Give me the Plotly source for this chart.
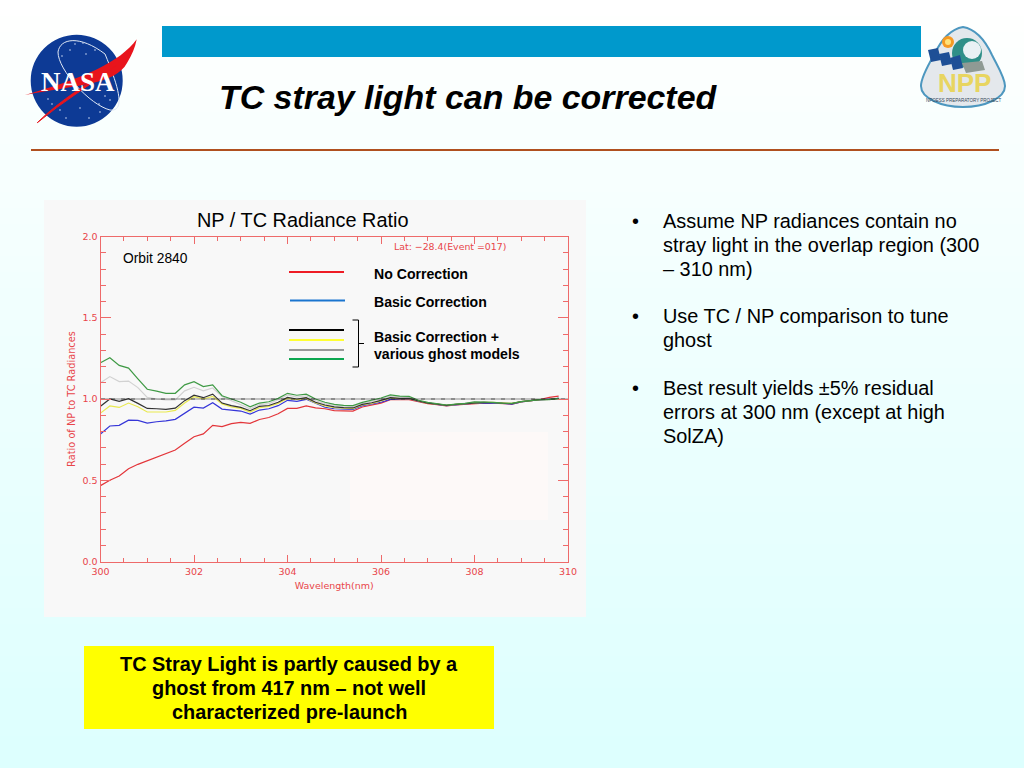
import re
import plotly.graph_objects as go

wavelength = [300.0,300.2,300.4,300.6,300.8,301.0,301.2,301.4,301.6,301.8,
              302.0,302.2,302.4,302.6,302.8,303.0,303.2,303.4,303.6,303.8,
              304.0,304.2,304.4,304.6,304.8,305.0,305.2,305.4,305.6,305.8,
              306.0,306.2,306.4,306.6,306.8,307.0,307.2,307.4,307.6,307.8,
              308.0,308.2,308.4,308.6,308.8,309.0,309.2,309.4,309.6,309.8]
no_correction = [.467,.5,.526,.571,.598,.62,.645,.666,.686,.727,
                 .768,.785,.838,.83,.848,.856,.85,.874,.886,.909,
                 .942,.942,.957,.945,
                 .94,.928,.926,.926,.951,.961,.975,.996,.996,.996,.984,.971,.965,.957,
                 .963,.967,.975,.975,.975,.973,.969,.982,.990,.996,1.010,1.018]
basic_correction = [.785,.834,.838,.87,.868,.852,.86,.865,.875,.913,
                    .95,.944,.977,.938,.934,.926,.907,.932,.94,.959,
                    .992,.985,.998,.973,
                    .949,.94,.938,.936,.959,.969,.98,.998,.998,1.002,.986,.975,.967,.959,
                    .965,.967,.975,.975,.975,.973,.969,.982,.990,.996,1.002,1.004]
ghost_black = [.955,1.0,.985,1.002,.973,.942,.94,.936,.944,.99,
               1.023,1.008,1.03,.975,.959,.948,.928,.955,.96,.98,
               1.01,1.0,1.008,.98,
               .963,.951,.947,.945,.967,.977,.992,1.008,1.004,1.004,.988,.975,.969,.961,
               .967,.971,.979,.979,.977,.973,.971,.984,.992,.996,.998,1.004]
ghost_yellow = [.913,.957,.948,.975,.952,.92,.92,.92,.93,.975,
                1.014,1.0,1.016,.97,.952,.942,.92,.946,.955,.973,
                1.004,.996,1.004,.975,
                .958,.947,.943,.941,.963,.973,.988,1.006,1.002,1.002,.988,.975,.969,.961,
                .967,.971,.979,.979,.979,.975,.973,.984,.992,.996,.998,1.002]
ghost_gray = [1.10,1.138,1.107,1.11,1.07,1.01,1.0,.995,.995,1.05,
              1.072,1.05,1.068,1.015,.99,.965,.94,.965,.972,.995,
              1.025,1.012,1.02,.99,
              .972,.96,.955,.953,.973,.985,1.0,1.018,1.012,1.01,.99,.977,.97,.962,
              .967,.973,.981,.981,.979,.975,.973,.984,.992,.996,.998,1.002]
ghost_green = [1.223,1.254,1.207,1.19,1.124,1.06,1.048,1.035,1.035,1.087,
               1.107,1.076,1.087,1.02,1.0,.98,.952,.975,.983,1.004,
               1.035,1.023,1.03,1.0,
               .98,.967,.961,.959,.979,.992,1.006,1.025,1.018,1.016,.992,.979,.971,.963,
               .969,.973,.982,.982,.979,.975,.973,.984,.992,.996,.996,1.004]
reference_x = [300, 310]
reference_y = [1.0, 1.0]

title_text = "TC stray light can be corrected"
bullets = [["Assume NP radiances contain no", "stray light in the overlap region (300", "– 310 nm)"],
           ["Use TC / NP comparison to tune", "ghost"],
           ["Best result yields ±5% residual", "errors at 300 nm (except at high", "SolZA)"]]
callout = ["TC Stray Light is partly caused by a", "ghost from 417 nm – not well", "characterized pre-launch"]

W, H = 1024, 768
fx = lambda x: x / W
fy = lambda y: 1 - y / H

def P(s):
    toks = re.findall(r"[A-Za-z]|-?[\d.]+", s)
    out, i = [], 0
    for t in toks:
        if t.isalpha():
            out.append(t)
        else:
            out.append(f"{fx(float(t)) if i % 2 == 0 else fy(float(t)):.5f}")
            i += 1
    return " ".join(out)

shapes = []
def rect(x0, y0, x1, y1, color):
    shapes.append(dict(type="rect", xref="paper", yref="paper", x0=fx(x0), x1=fx(x1), y0=fy(y1), y1=fy(y0),
                       fillcolor=color, line=dict(width=0), layer="below"))
def seg(x0, y0, x1, y1, color, w=2):
    shapes.append(dict(type="line", xref="paper", yref="paper", x0=fx(x0), x1=fx(x1), y0=fy(y0), y1=fy(y1),
                       line=dict(color=color, width=w), layer="below"))
def path(d, fill=None, line=None, w=0):
    s = dict(type="path", xref="paper", yref="paper", path=P(d), layer="below", line=dict(width=w))
    if fill: s["fillcolor"] = fill
    if line: s["line"]["color"] = line
    shapes.append(s)
def circle(cx, cy, r, fill, line=None, w=0):
    s = dict(type="circle", xref="paper", yref="paper", x0=fx(cx-r), x1=fx(cx+r), y0=fy(cy+r), y1=fy(cy-r),
             fillcolor=fill, layer="below", line=dict(width=w))
    if line: s["line"]["color"] = line
    shapes.append(s)

# page background gradient
for i in range(48):
    t = i / 47
    rect(0, i*16, W, (i+1)*16, f"rgb({int(255-34*t)},255,{int(255-1*t)})")

rect(162, 26, 921, 57, "#0099cc")
seg(31, 150, 999, 150, "#b0501f", 2)
rect(44, 200, 586, 617, "#f8f8f8")
rect(350, 432, 548, 520, "#fdf9f8")
rect(84, 646, 494, 729, "#ffff00")

# legend keys
for y, c, x0, x1 in [(272, "#ee1c25", 289, 344), (300.5, "#1a75cf", 290, 345), (330, "#000000", 289, 344),
                     (340, "#ffff33", 289, 344), (350, "#999999", 289, 344), (359, "#0ca750", 289, 344)]:
    seg(x0, y, x1, y, c, 2)
path("M 352.5 320 L 358.5 320 L 358.5 367 L 352.5 367", line="#000000", w=1)
seg(358.5, 343.5, 364, 343.5, "#000000", 1)

# NASA logo
circle(76.7, 80.7, 46, "#0d3a95")
path("M 105 54 C 80 35 60 38 58 52 C 58 70 90 105 110 110 C 125 112 120 90 105 54 Z", line="#dfe8f5", w=1)
path("M 136.7 39.3 C 120 62 85 78 25 95 C 75 85 115 85 127 63 C 132 55 135 48 136.7 39.3 Z", fill="#e8141c")
path("M 37.3 122.7 C 60 100 90 82 117 65 C 92 84 62 102 37.3 122.7 Z", fill="#e8141c", line="#e8141c", w=1)
for sx, sy in [(75, 44), (83, 43), (70, 50), (86, 54), (62, 56), (95, 50), (52, 104), (60, 110), (48, 99),
               (99, 104), (105, 96), (110, 100), (89, 118), (66, 118), (100, 112), (80, 108)]:
    circle(sx, sy, 0.8, "#cfdcf5")

# NPP logo
path("M 963 27 C 975 29 985 40 992 55 C 998 67 1005 78 1005 86 C 1005 98 985 107 963 107 "
     "C 941 107 921 98 921 86 C 921 78 927 67 934 55 C 941 40 951 29 963 27 Z",
     fill="#e4e8ec", line="#4d97bf", w=2)
circle(967, 53, 15, "#2f8f88")
circle(972, 50, 9, "#e9f1f4")
circle(948, 42, 6, "#f59a23")
circle(948, 42, 3, "#ffe27a")
path("M 928 50 L 938 48 L 941 60 L 931 62 Z", fill="#1e4f96")
path("M 939 54 L 949 52 L 952 64 L 942 66 Z", fill="#1e4f96")
path("M 950 58 L 960 55 L 963 68 L 953 70 Z", fill="#1e4f96")
path("M 962 63 L 982 61 L 985 70 L 966 73 Z", fill="#8f9a94")

annotations = []
def text(x, y, s, size, color="#000000", bold=False, italic=False, anchor="left", family="Liberation Sans"):
    if bold: s = f"<b>{s}</b>"
    if italic: s = f"<i>{s}</i>"
    annotations.append(dict(xref="paper", yref="paper", x=fx(x), y=fy(y), text=s, showarrow=False,
                            xanchor=anchor, yanchor="middle", borderpad=0,
                            font=dict(family=family, size=size, color=color)))

text(218, 97, title_text, 33.9, bold=True, italic=True)
text(196, 220, "NP / TC Radiance Ratio", 19.9)
text(122, 259, "Orbit 2840", 13.8)
text(393, 246.5, "Lat: −28.4(Event =017)", 9.4, color="#e8454a", family="DejaVu Sans")
text(373, 274, "No Correction", 14.1, bold=True)
text(373, 301.5, "Basic Correction", 14.1, bold=True)
text(373, 337, "Basic Correction +", 14.1, bold=True)
text(373, 354, "various ghost models", 14.1, bold=True)

bullet_y = [221, 316, 388]
for y0, lines in zip(bullet_y, bullets):
    text(631, y0, "•", 19.9)
    for i, ln in enumerate(lines):
        text(662, y0 + 24*i, ln, 19.9)
for i, ln in enumerate(callout):
    text(289, 664 + 24*i, ln, 19.9, bold=True, anchor="center")

text(78, 82, "NASA", 27, color="#ffffff", bold=True, anchor="center", family="Liberation Serif")
text(964, 83, "NPP", 26, color="#e8d560", bold=True, anchor="center")
text(964, 101, "NPOESS PREPARATORY PROJECT", 4.5, color="#33475b", anchor="center")

fig = go.Figure()
for name, ys, c in [("No Correction", no_correction, "#e3353a"),
                    ("Basic Correction", basic_correction, "#3636d8"),
                    ("Ghost model (gray)", ghost_gray, "#d2d2d2"),
                    ("Ghost model (yellow)", ghost_yellow, "#e9e94f"),
                    ("Ghost model (black)", ghost_black, "#333333"),
                    ("Ghost model (green)", ghost_green, "#3f9a45")]:
    fig.add_trace(go.Scatter(x=wavelength, y=ys, mode="lines", name=name, line=dict(color=c, width=1.2)))
fig.add_trace(go.Scatter(x=reference_x, y=reference_y, mode="lines", name="Unity",
                         line=dict(color="#222222", width=1, dash="5px,1px,1px,1px,1px,1px")))

AX = "#ee6a6a"
LBL = "#e8454a"
fig.update_layout(
    width=W, height=H, autosize=False, showlegend=False,
    margin=dict(l=0, r=0, t=0, b=0, autoexpand=False),
    paper_bgcolor="rgba(0,0,0,0)", plot_bgcolor="rgba(0,0,0,0)",
    shapes=shapes, annotations=annotations,
    xaxis=dict(domain=[fx(100.5), fx(568)], range=[300, 310], tick0=300, dtick=2, ticks="inside", ticklen=7,
               tickcolor=AX, showline=True, linecolor=AX, linewidth=1, mirror="allticks", showgrid=False, zeroline=False,
               automargin=False, ticklabelstandoff=1,
               tickfont=dict(family="DejaVu Sans", size=9.5, color=LBL),
               minor=dict(dtick=0.5, ticks="inside", ticklen=4, tickcolor=AX, showgrid=False),
               title=dict(text="Wavelength(nm)", font=dict(family="DejaVu Sans", size=9.5, color=LBL), standoff=6)),
    yaxis=dict(domain=[fy(561.5), fy(236.5)], range=[0, 2], tick0=0, dtick=0.5, tickformat=".1f", ticks="inside", ticklen=10,
               tickcolor=AX, showline=True, linecolor=AX, linewidth=1, mirror="allticks", showgrid=False, zeroline=False,
               automargin=False,
               tickfont=dict(family="DejaVu Sans", size=9.5, color=LBL),
               minor=dict(dtick=0.1, ticks="inside", ticklen=5, tickcolor=AX, showgrid=False),
               title=dict(text="Ratio of NP to TC Radiances", font=dict(family="DejaVu Sans", size=9.8, color=LBL), standoff=5)),
)
fig.write_html("out.html", config={"displayModeBar": False}, post_script="""
var st=document.createElement('style');st.textContent='html,body{margin:0!important;padding:0!important;overflow:hidden}';document.head.appendChild(st);
""")
